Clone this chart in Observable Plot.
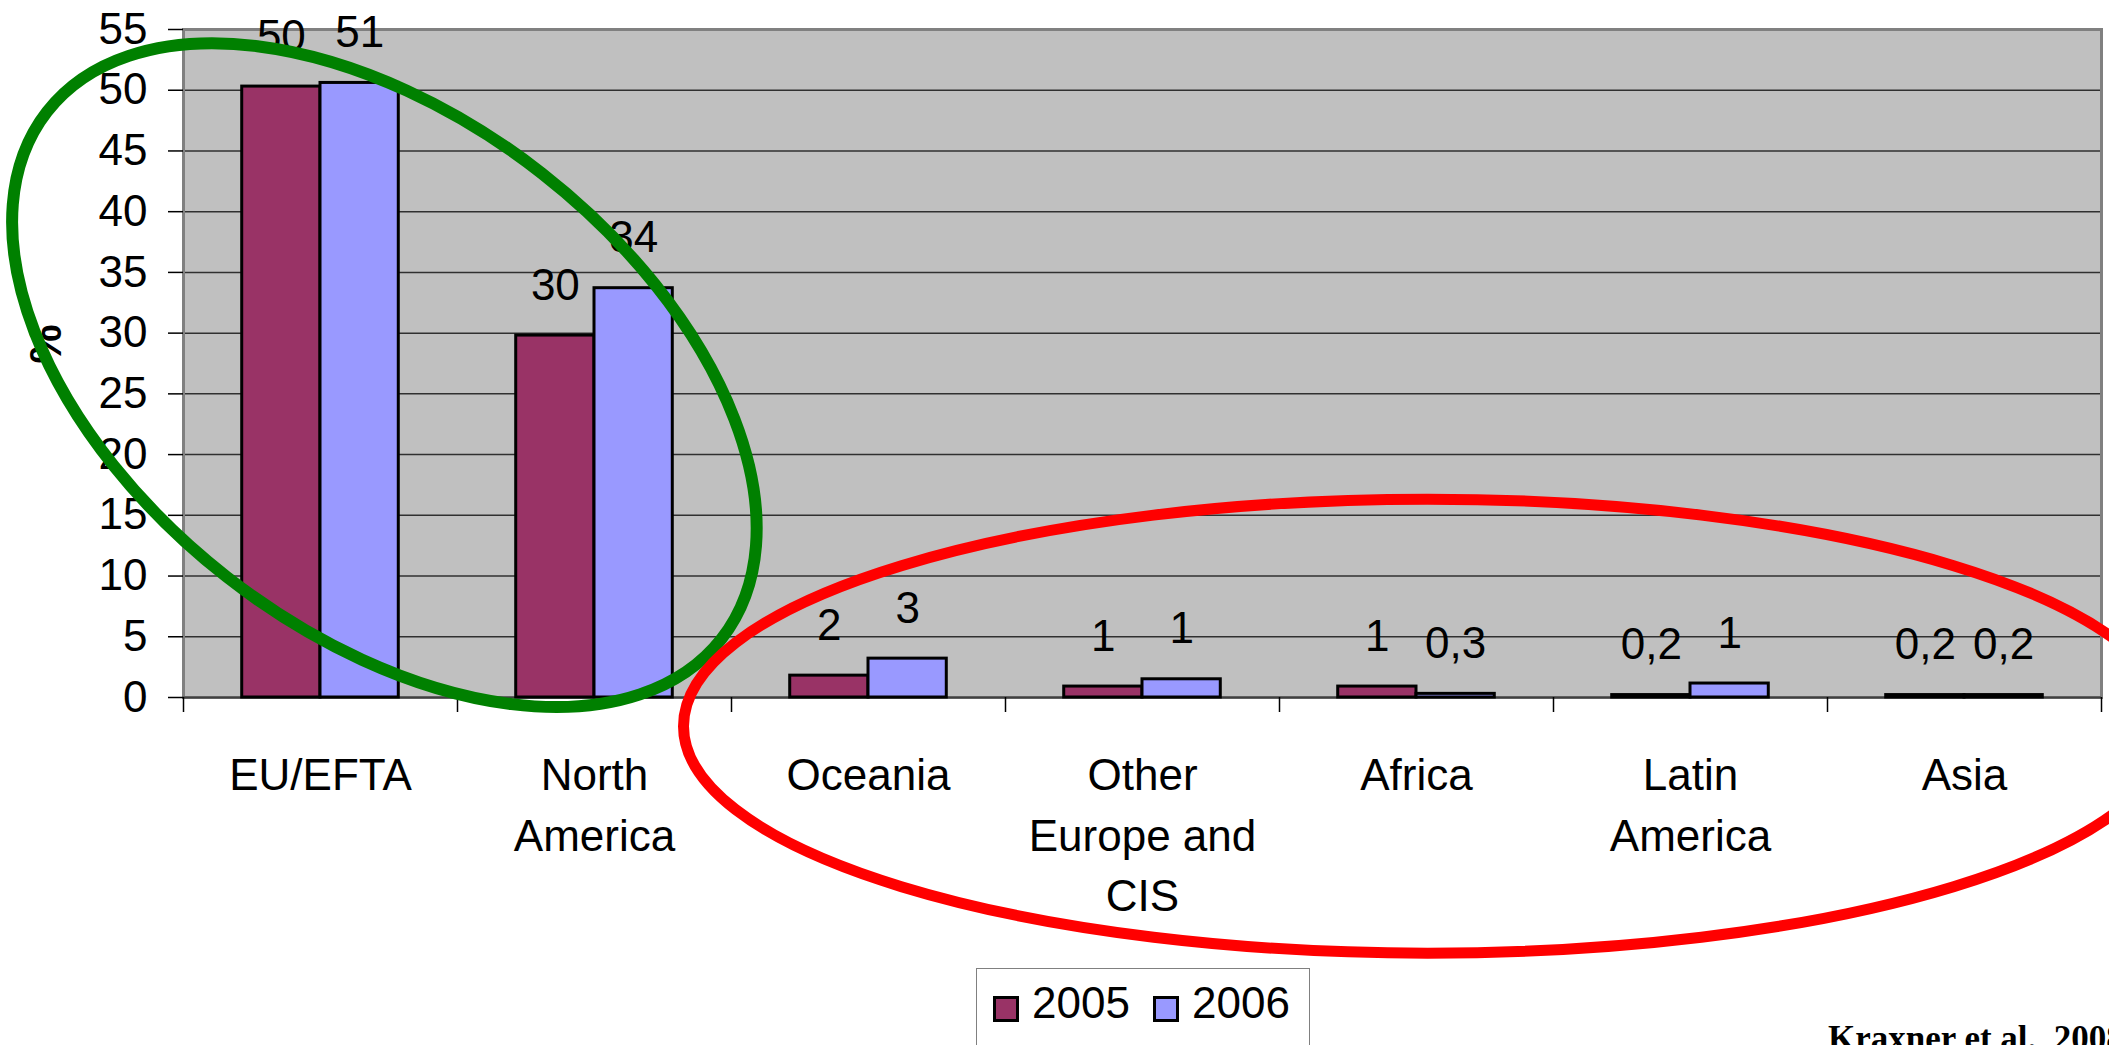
<!DOCTYPE html>
<html>
<head>
<meta charset="utf-8">
<script src="https://cdn.jsdelivr.net/npm/d3@7"></script>
<script src="https://cdn.jsdelivr.net/npm/@observablehq/plot@0.6"></script>
<style>
  html, body { margin: 0; padding: 0; background: #fff; }
  body { width: 2109px; height: 1045px; overflow: hidden; position: relative; font-family: "Liberation Sans", Arial, sans-serif; }
  #chart { position: absolute; left: 0; top: 0; }
  #legend { position: absolute; left: 976px; top: 968px; width: 334px; height: 110px; border: 1.5px solid #808080; box-sizing: border-box; background: #fff; }
  #legend .sw { position: absolute; width: 26px; height: 26px; border: 3px solid #000; box-sizing: border-box; top: 27px; }
  #legend .lb { position: absolute; font-size: 44px; line-height: 44px; top: 12px; color: #000; white-space: nowrap; }
  #caption { position: absolute; left: 1828px; top: 1021px; font-family: "Liberation Serif", "DejaVu Serif", serif; font-weight: bold; font-size: 35px; line-height: 35px; white-space: nowrap; color: #000; }
</style>
</head>
<body>
<div id="chart"></div>
<div id="legend"></div>
<div id="caption">Kraxner et al., 2008</div>
<script>
// ---- data ----
const categories = ["EU/EFTA", "North America", "Oceania", "Other Europe and CIS", "Africa", "Latin America", "Asia"];
const categoryLabels = ["EU/EFTA", "North\nAmerica", "Oceania", "Other\nEurope and\nCIS", "Africa", "Latin\nAmerica", "Asia"];
const years = ["2005", "2006"];
const values2005 = [50.3, 29.8, 1.8, 0.9, 0.9, 0.2, 0.2];
const values2006 = [50.6, 33.7, 3.2, 1.5, 0.3, 1.15, 0.2];
const labels2005 = ["50", "30", "2", "1", "1", "0,2", "0,2"];
const labels2006 = ["51", "34", "3", "1", "0,3", "1", "0,2"];
const yTicks = [0, 5, 10, 15, 20, 25, 30, 35, 40, 45, 50, 55];
const colors = ["#993366", "#9999FF"];

// ---- layout ----
const W = 2109, H = 965, ML = 183, MR = 8, MT = 29, MB = 268;
const bw = (W - ML - MR) / categories.length;   // band width
const barW = bw / 3.5;                           // Excel gap width 150%
const gapOut = 0.75 * barW;

const rows2005 = categories.map((c, i) => ({category: c, value: values2005[i], label: labels2005[i]}));
const rows2006 = categories.map((c, i) => ({category: c, value: values2006[i], label: labels2006[i]}));
const fmtCat = d => categoryLabels[categories.indexOf(d)];

const chart = Plot.plot({
  width: W, height: H,
  marginLeft: ML, marginRight: MR, marginTop: MT, marginBottom: MB,
  style: {fontFamily: "'Liberation Sans', Arial, sans-serif", fontSize: "44px", color: "#000", background: "transparent", overflow: "visible"},
  x: {type: "band", domain: categories, padding: 0, axis: null},
  y: {domain: [0, 55], axis: null},
  marks: [
    Plot.frame({fill: "#c0c0c0"}),
    Plot.ruleY(yTicks.filter(t => t > 0 && t < 55), {stroke: "#303030", strokeWidth: 1.5}),
    Plot.frame({stroke: "#808080", strokeWidth: 3}),
    Plot.ruleY([0], {stroke: "#404040", strokeWidth: 2}),
    Plot.barY(rows2005, {x: "category", y: "value", fill: colors[0], stroke: "#000", strokeWidth: 3,
      insetLeft: gapOut, insetRight: bw - gapOut - barW}),
    Plot.barY(rows2006, {x: "category", y: "value", fill: colors[1], stroke: "#000", strokeWidth: 3,
      insetLeft: gapOut + barW, insetRight: gapOut}),
    Plot.text(rows2005, {x: "category", y: "value", text: "label", dx: -barW / 2, dy: -50, fontSize: 44, fill: "#000"}),
    Plot.text(rows2006, {x: "category", y: "value", text: "label", dx: barW / 2, dy: -50, fontSize: 44, fill: "#000"}),
    Plot.axisY({ticks: yTicks, tickSize: 15, tickPadding: 21, fontSize: 44, label: null, stroke: "#000", strokeWidth: 1.5}),
    Plot.axisX({tickSize: 0, tickPadding: 50, tickFormat: fmtCat, fontSize: 44, lineHeight: 1.375, label: null}),
    Plot.axisX({tickSize: 15, tickFormat: () => "", dx: -bw / 2, label: null, stroke: "#000", strokeWidth: 1.5}),
    Plot.axisX({ticks: [categories[categories.length - 1]], tickSize: 15, tickFormat: () => "", dx: bw / 2, label: null, stroke: "#000", strokeWidth: 1.5}),
    Plot.text(["%"], {frameAnchor: "left", dx: -137, dy: 0, rotate: -90, fontWeight: "bold", fontSize: 44, fill: "#000"})
  ]
});
document.getElementById("chart").appendChild(chart);

// ---- annotation ellipses (placed via the chart's scales) ----
const xs = chart.scale("x"), ys = chart.scale("y");
const annotations = [
  {category: "EU/EFTA", frac: 0.735, y: 26.5, rx: 428, ry: 256, rotate: 38, color: "#008000", width: 12},
  {category: "Africa", frac: 0.542, y: -2.4, rx: 744, ry: 227, rotate: 0, color: "#FF0000", width: 11}
];
const svg = d3.select(chart);
for (const a of annotations) {
  const cx = xs.apply(a.category) + a.frac * xs.bandwidth;
  const cy = ys.apply(a.y);
  svg.append("ellipse")
    .attr("cx", cx).attr("cy", cy).attr("rx", a.rx).attr("ry", a.ry)
    .attr("transform", `rotate(${a.rotate} ${cx} ${cy})`)
    .attr("fill", "none").attr("stroke", a.color).attr("stroke-width", a.width);
}

// ---- legend ----
const legend = d3.select("#legend");
const swX = [16, 176], lbX = [55, 215];
years.forEach((y, i) => {
  legend.append("div").attr("class", "sw").style("left", swX[i] + "px").style("background", colors[i]);
  legend.append("div").attr("class", "lb").style("left", lbX[i] + "px").text(y);
});
</script>
</body>
</html>
